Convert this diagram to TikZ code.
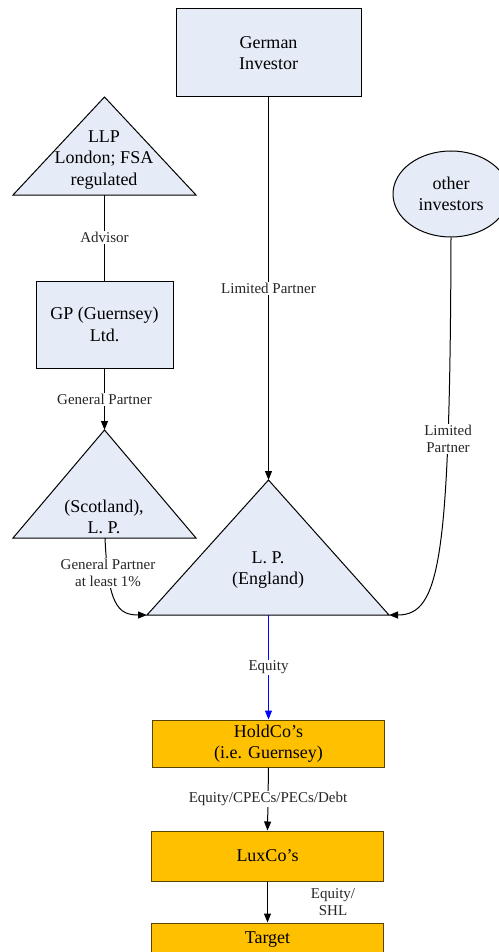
\documentclass[tikz,border=0pt]{standalone}
\usepackage{fontspec}
\setmainfont{Liberation Serif}
\usetikzlibrary{arrows.meta, shapes.geometric}

\definecolor{boxblue}{HTML}{E6ECF7}
\definecolor{boxorange}{HTML}{FFC000}
\definecolor{boxedge}{HTML}{5A4500}

\begin{document}
\begin{tikzpicture}[x=1pt, y=-1pt, line width=1pt, every node/.style={inner sep=2pt},
    main/.style={align=center, font=\fontsize{18}{21.5}\selectfont},
    lbl/.style={align=center, fill=white, inner sep=1pt, text=black!85,
        font=\fontsize{15}{17.5}\selectfont},
    bluebox/.style={draw, fill=boxblue, main},
    orangebox/.style={draw=boxedge, fill=boxorange, main,
        minimum width=232pt},
    tri/.style={draw, fill=boxblue, line join=miter},
    arr/.style={-{Triangle[length=9pt, width=7pt]}}]
    \useasboundingbox (0,0) rectangle (498,952);

    % 1. Boxes and ellipse
    \node[bluebox, minimum width=185pt, minimum height=88pt] (german) at (268.5,53) {German\\Investor};
    \node[bluebox, minimum width=137pt, minimum height=87pt] (gp) at (104.5,324.5) {GP (Guernsey)\\Ltd.};
    \node[draw, ellipse, fill=boxblue, minimum width=116pt, minimum height=86pt, main] (other) at (451,194) {other\\investors};

    % 2. Triangles
    \coordinate (llpA) at (104.5,97);
    \coordinate (llpL) at (13,195);
    \coordinate (llpR) at (196,195);
    \coordinate (llpB) at (104.5,195);
    \draw[tri] (llpA) -- (llpL) -- (llpR) -- cycle;
    \node[main] (llp) at (104,160) {LLP\\London; FSA\\regulated};

    \coordinate (scoA) at (104.5,430);
    \coordinate (scoL) at (13,538);
    \coordinate (scoR) at (196,538);
    \coordinate (scoB) at (105,538);
    \draw[tri] (scoA) -- (scoL) -- (scoR) -- cycle;
    \node[main] (sco) at (104,517) {(Scotland),\\L. P.};

    \coordinate (engA) at (268.5,480);
    \coordinate (engL) at (147,615);
    \coordinate (engR) at (389,615);
    \coordinate (engB) at (268.5,615);
    \draw[tri] (engA) -- (engL) -- (engR) -- cycle;
    \node[main] (eng) at (268,570) {L. P.\\(England)};

    % 3. Orange boxes
    \node[orangebox, minimum height=47pt] (hold) at (268.5,743.5) {HoldCo’s\\(i.e. Guernsey)};
    \node[orangebox, minimum height=50pt] (lux) at (267.5,856) {LuxCo’s};
    \node[orangebox, minimum height=34pt] (target) at (267.5,940) {Target};

    % 4. Connectors
    \draw (llpB) -- (gp.north) node[lbl, midway] (advisor) {Advisor};
    \draw[arr] (german.south) -- (engA) node[lbl, pos=0.5] (lpgerman) {Limited Partner};
    \draw[arr] (gp.south) -- (scoA) node[lbl, midway] (gpgp) {General Partner};
    \draw[arr] (scoB) .. controls (108,605) and (118,615) .. (engL);
    \node[lbl] (gpsco) at (108,573) {General Partner\\at least 1\%};
    \draw[arr] (other.south) .. controls (450,560) and (440,615) .. (engR);
    \node[lbl] (lpother) at (448,439) {Limited\\Partner};
    \draw[arr, draw=blue, fill=blue] (engB) -- (hold.north) node[lbl, midway] (equity) {Equity};
    \draw[arr] (hold.south) -- (lux.north) node[lbl, midway] (debt) {Equity/CPECs/PECs/Debt};
    \draw[arr] (lux.south) -- (target.north);
    \node[lbl] (shl) at (333,902) {Equity/\\SHL};
\end{tikzpicture}
\end{document}
